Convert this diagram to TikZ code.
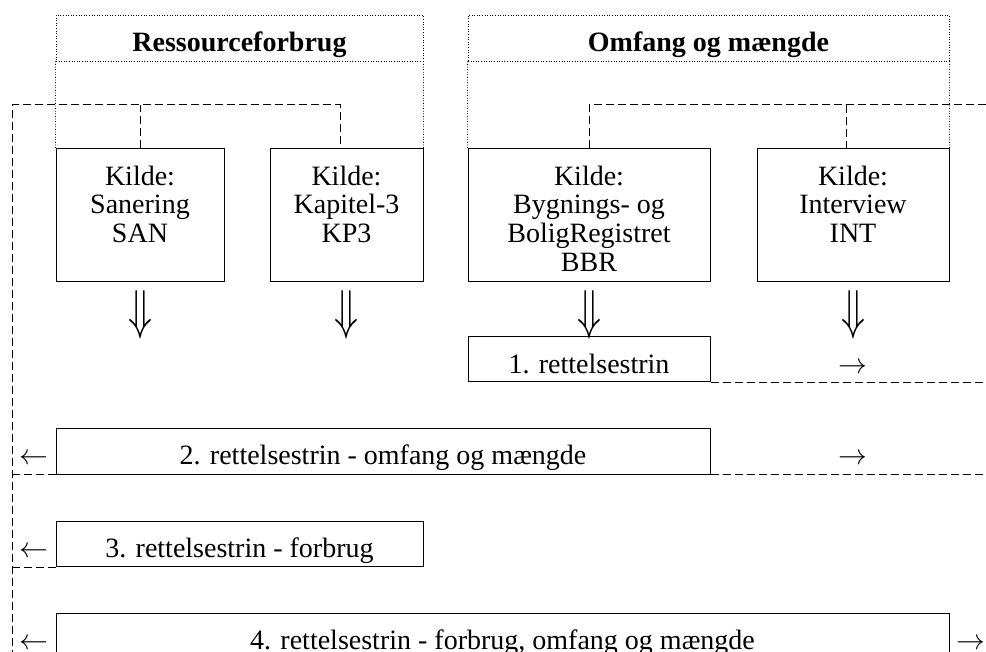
\documentclass[tikz,border=0pt]{standalone}
\usepackage{graphicx}
\usepackage{fontspec}
\setmainfont{Liberation Serif}
\usetikzlibrary{positioning}
\newcommand{\nedad}{\resizebox{12pt}{19pt}{$\Downarrow$}}
\tikzset{
  kildebox/.style={draw,line width=0.5pt,inner sep=0pt,minimum height=66.5pt},
  kildetekst/.style={align=center,inner sep=0pt},
  trinbox/.style={draw,line width=0.5pt,inner sep=0pt,text height=18pt,text depth=4.5pt},
  overskrift/.style={draw,prik,inner sep=0pt,text height=18.5pt,text depth=4.5pt},
  bus/.style={line width=0.5pt,dash pattern=on 4pt off 2pt},
  prik/.style={line width=0.4pt,dash pattern=on 0.4pt off 0.9pt},
  nedpil/.style={inner sep=0pt},
  pil/.style={inner sep=0pt,anchor=base}
}
\begin{document}
\begin{tikzpicture}[x=0.5pt,y=-0.5pt,font=\fontsize{14}{14.3}\selectfont]
  \useasboundingbox (0,0) rectangle (986,652);
  \clip (0,0) rectangle (986,652);
  \node[kildebox,minimum width=84pt] (san) at (140,215.5) {};
  \node[kildebox,minimum width=76.5pt] (kp3) at (346.5,215.5) {};
  \node[kildebox,minimum width=121pt] (bbr) at (589,215.5) {};
  \node[kildebox,minimum width=96pt] (int) at (853,215.5) {};
  \node[kildetekst,below=8.5pt of san.north] (santxt) {Kilde:\\Sanering\\SAN};
  \node[kildetekst,below=8.5pt of kp3.north] (kp3txt) {Kilde:\\Kapitel-3\\KP3};
  \node[kildetekst,below=8.5pt of bbr.north] (bbrtxt) {Kilde:\\Bygnings- og\\BoligRegistret\\BBR};
  \node[kildetekst,below=8.5pt of int.north] (inttxt) {Kilde:\\Interview\\INT};
  \node[overskrift,minimum width=183.5pt] (ress) at (239.5,38) {\textbf{Ressourceforbrug}};
  \node[overskrift,minimum width=240.5pt] (omf) at (708.5,38) {\textbf{Omfang og mængde}};
  \draw[prik] (ress.south west) -- (san.north west);
  \draw[prik] (ress.south east) -- (kp3.north east);
  \draw[prik] (omf.south west) -- (bbr.north west);
  \draw[prik] (omf.south east) -- (int.north east);
  \coordinate (vbus) at (12,105);
  \coordinate (vbund) at (12,670);
  \coordinate (hbus) at (1000,105);
  \coordinate (kp3top) at (340,149);
  \coordinate (inttop) at (846,149);
  \draw[bus] (vbund) -- (vbus) -| (kp3top);
  \draw[bus] (san.north) -- (san.north |- vbus);
  \draw[bus] (bbr.north) |- (hbus);
  \draw[bus] (inttop) -- (inttop |- hbus);
  \node[nedpil,below=4pt of san.south] (sanpil) {\nedad};
  \node[nedpil,below=4pt of kp3.south] (kp3pil) {\nedad};
  \node[nedpil,below=4pt of bbr.south] (bbrpil) {\nedad};
  \node[nedpil,below=4pt of int.south] (intpil) {\nedad};
  \node[trinbox,minimum width=121pt] (trin1) at (589,359.5) {1. rettelsestrin};
  \node[trinbox,minimum width=327pt] (trin2) at (383,451.5) {2. rettelsestrin - omfang og mængde};
  \node[trinbox,minimum width=183.5pt] (trin3) at (239.5,544) {3. rettelsestrin - forbrug};
  \node[trinbox,minimum width=446.5pt] (trin4) at (502.5,636) {4. rettelsestrin - forbrug, omfang og mængde};
  \coordinate (venstre) at (34,0);
  \coordinate (hoejre) at (971,0);
  \node[pil] (ud1) at (trin1.base -| int.south) {$\rightarrow$};
  \node[pil] (ud2) at (trin2.base -| int.south) {$\rightarrow$};
  \node[pil] (ind2) at (trin2.base -| venstre) {$\leftarrow$};
  \node[pil] (ind3) at (trin3.base -| venstre) {$\leftarrow$};
  \node[pil] (ind4) at (trin4.base -| venstre) {$\leftarrow$};
  \node[pil] (ud4) at (trin4.base -| hoejre) {$\rightarrow$};
  \draw[bus] (trin1.south east) -- (trin1.south east -| hbus);
  \draw[bus] (trin2.south east) -- (trin2.south east -| hbus);
  \draw[bus] (trin2.south west) -- (trin2.south west -| vbus);
  \draw[bus] (trin3.south west) -- (trin3.south west -| vbus);
\end{tikzpicture}
\end{document}
